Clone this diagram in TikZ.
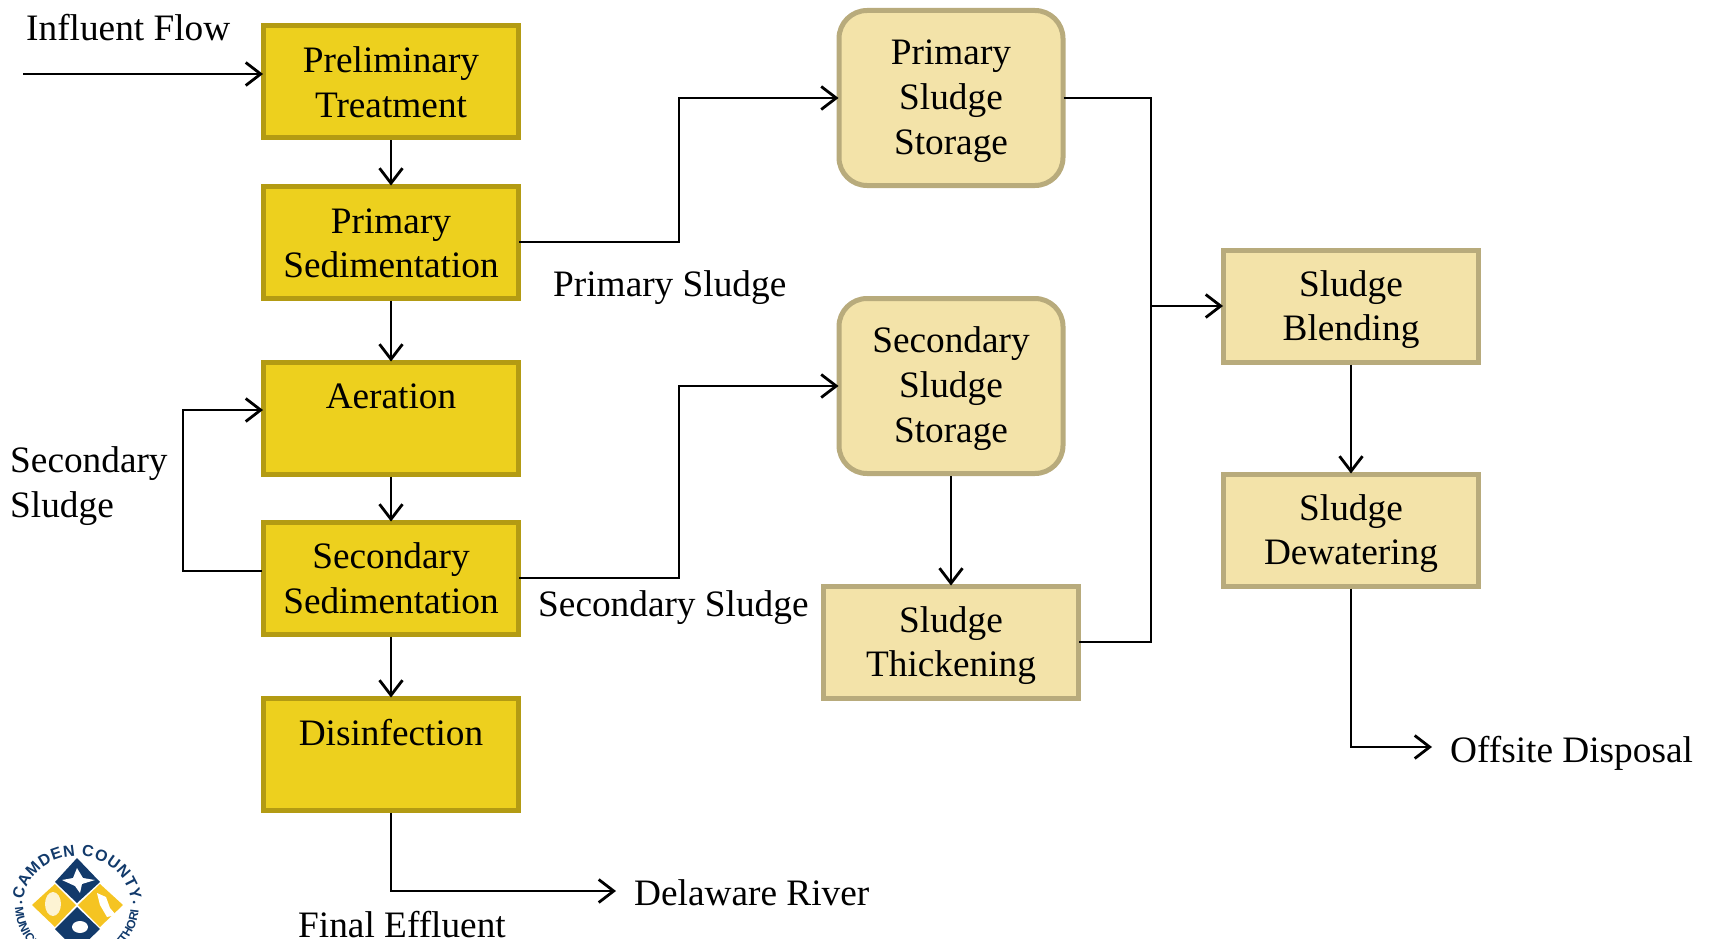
\documentclass[tikz,border=0pt]{standalone}
\usepackage{fontspec}
\setmainfont{Liberation Serif}
\newfontfamily\logofont{Liberation Sans}
\usetikzlibrary{arrows.meta,decorations.text}
\definecolor{yfill}{HTML}{EDD01E}
\definecolor{ydraw}{HTML}{B39B13}
\definecolor{lfill}{HTML}{F3E3A9}
\definecolor{ldraw}{HTML}{B8AB7C}
\definecolor{navy}{HTML}{123A6B}
\definecolor{gold}{HTML}{F5C422}
\newcommand{\dn}[1]{\rule{0pt}{\dimexpr 25pt+2\dimexpr #1pt\relax\relax}}
\tikzset{
  x=1pt,y=-1pt,
  every node/.style={font=\fontsize{37.3}{44.5}\selectfont,text=black},
  boxbase/.style={rectangle,align=center,inner sep=0pt,line width=5pt,minimum width=255pt,minimum height=112pt},
  ybox/.style={boxbase,draw=ydraw,fill=yfill},
  lbox/.style={boxbase,draw=ldraw,fill=lfill},
  rbox/.style={lbox,rounded corners=28pt,minimum width=224pt,minimum height=175pt,font=\fontsize{37.3}{45.2}\selectfont},
  lbl/.style={anchor=west,align=left,inner sep=0pt},
  conn/.style={draw=black,line width=2.8pt},
  fromnode/.style={shorten <=-2pt},
  arr/.style={conn,shorten >=-2pt,-{Straight Barb[length=15pt,width=23pt,line width=2.8pt]}},
}
\begin{document}
\begin{tikzpicture}
\useasboundingbox (0,0) rectangle (1711,939);
% boxes
\node[ybox] (prelim) at (391,82) {Preliminary\\Treatment};
\node[ybox] (prim) at (391,242) {\dn{1}Primary\\Sedimentation};
\node[ybox] (aer) at (391,418) {\dn{7}Aeration\\\strut};
\node[ybox] (sec) at (391,578) {Secondary\\Sedimentation};
\node[ybox] (dis) at (391,754) {\dn{7.5}Disinfection\\\strut};
\node[rbox] (pst) at (951,98) {\dn{3}Primary\\Sludge\\Storage};
\node[rbox] (sst) at (951,386) {\dn{3}Secondary\\Sludge\\Storage};
\node[lbox] (thk) at (951,642) {\dn{4}Sludge\\Thickening};
\node[lbox] (bld) at (1351,306) {\dn{4}Sludge\\Blending};
\node[lbox] (dew) at (1351,530) {\dn{4}Sludge\\Dewatering};
% labels
\node[lbl] (linf) at (26,28) {Influent Flow};
\node[lbl] (lps) at (553,288) {Primary Sludge};
\node[lbl] (lloop) at (10,486) {Secondary\\Sludge};
\node[lbl] (lss) at (538,608) {Secondary Sludge};
\node[lbl] (lod) at (1450,753) {Offsite Disposal};
\node[lbl] (ldr) at (634,893) {Delaware River};
\node[lbl] (lfe) at (298,925) {Final Effluent};
% free ends
\coordinate (inf) at (23,74);
\coordinate (bus) at (1151,306);
\coordinate (off) at (1430,747);
\coordinate (riv) at (614,891);
\coordinate (r1) at (679,98);
\coordinate (r2) at (679,386);
\coordinate (lp) at (183,410);
\coordinate (sw) at (262,571);
% connectors
\draw[arr] (inf) -- (inf -| prelim.west);
\draw[arr] (prelim.south) -- (prim.north);
\draw[arr] (prim.south) -- (aer.north);
\draw[arr] (aer.south) -- (sec.north);
\draw[arr] (sec.south) -- (dis.north);
\draw[arr,fromnode] (prim.east) -| (r1) -- (pst.west);
\draw[arr,fromnode] (sec.east) -| (r2) -- (sst.west);
\draw[arr] (sw) -- (sw -| lp) -- (lp) -- (lp -| aer.west);
\draw[arr] (sst.south) -- (thk.north);
\draw[conn,fromnode] (pst.east) -| (bus);
\draw[conn,fromnode] (thk.east) -| (bus);
\draw[arr] (bus) -- (bld.west);
\draw[arr] (bld.south) -- (dew.north);
\draw[arr] (dew.south) |- (off);
\draw[arr] (dis.south) |- (riv);
% logo
\begin{scope}
\clip (0,820) rectangle (200,939);
\fill[navy] (77,858) -- (100,882) -- (77,903) -- (55,882) -- cycle;
\fill[gold] (55,884) -- (76,905) -- (55,927) -- (32,905) -- cycle;
\fill[gold] (100,884) -- (123,905) -- (100,927) -- (78,905) -- cycle;
\fill[navy] (77,907) -- (100,929) -- (77,951) -- (55,929) -- cycle;
\fill[white] (77,868) -- (83,878) -- (95,880) -- (82,884) -- (80,893) -- (75,886) -- (62,880) -- (73,878) -- cycle;
\fill[white!80!gold] (53,904) ellipse (8pt and 12pt);
\fill[white] (97,893) -- (106,897) -- (110,908) -- (116,915) -- (107,917) -- (100,905) -- cycle;
\fill[white] (80,927) ellipse (8pt and 6pt);
\path[postaction={decorate,decoration={text along path,text align={fit to path},
  text={|\logofont\bfseries\fontsize{16}{16}\selectfont\color{navy}|CAMDEN COUNTY}}}]
  (23.3,899.9) arc[start angle=186,end angle=354,x radius=54,y radius=49];
\path[postaction={decorate,decoration={text along path,text align={fit to path},
  text={|\logofont\bfseries\fontsize{12}{12}\selectfont\color{navy}|MUNICIPAL UTILITIES AUTHORITY}}}]
  (15,907.1) arc[start angle=178,end angle=2,x radius=62,y radius=60];
\fill[navy] (21,902) circle (1.5pt) (134,902) circle (1.5pt);
\end{scope}
\end{tikzpicture}
\end{document}
